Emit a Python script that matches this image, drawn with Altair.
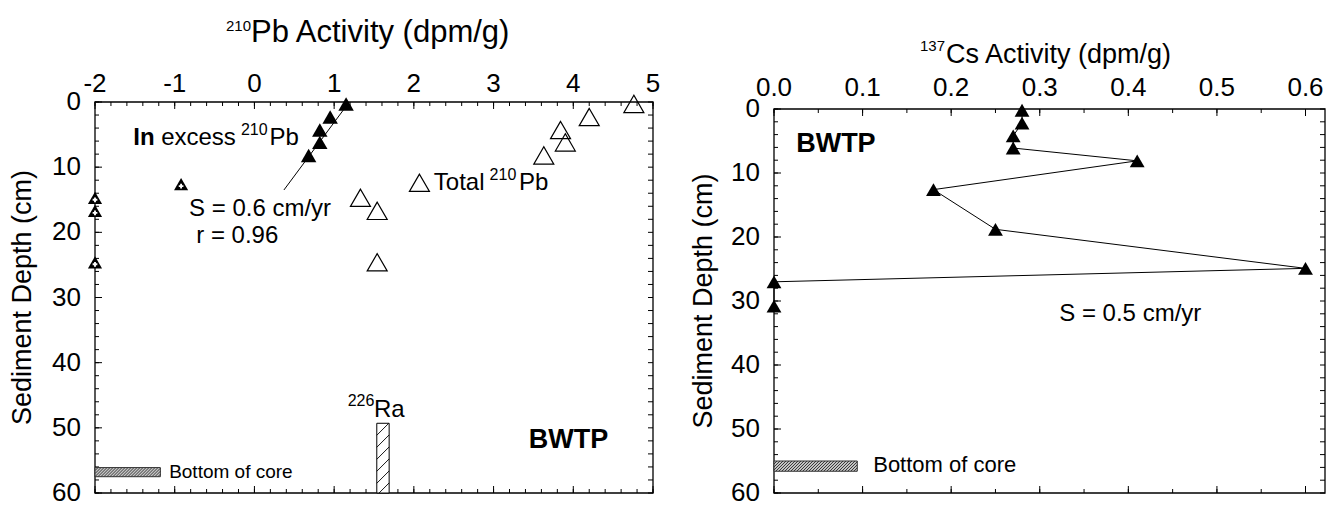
import altair as alt
import pandas as pd

# ------------------------------------------------------------------ data
# Left panel: 210Pb activity (dpm/g) vs sediment depth (cm)
exc_depth = [0.3, 2.3, 4.3, 6.2, 8.2]
exc_pb = [1.15, 0.95, 0.82, 0.82, 0.68]
tot_depth = [0.3, 2.3, 4.3, 6.2, 8.2, 14.7, 16.7, 24.6]
tot_pb = [4.76, 4.20, 3.84, 3.90, 3.63, 1.33, 1.54, 1.54]
neg_depth = [12.6, 14.7, 16.7, 24.6]
neg_pb = [-0.92, -2.0, -2.0, -2.0]
fit_pb = [1.19, 0.37]
fit_depth = [0.0, 13.5]
ra_pb = [1.535, 1.69]
ra_depth = [49.3, 60.0]
core_l_pb = [-2.0, -1.18]
core_l_depth = [56.1, 57.5]
legend_tri = [2.07, 12.4]

# Right panel: 137Cs activity (dpm/g) vs depth
cs_depth = [0.2, 2.2, 4.2, 6.1, 8.1, 12.6, 18.8, 24.9, 27.0, 30.8]
cs_act = [0.28, 0.28, 0.27, 0.27, 0.41, 0.18, 0.25, 0.60, 0.0, 0.0]
core_r_cs = [0.0, 0.094]
core_r_depth = [55.0, 56.6]

# tick labels
pb_ticks = [-2, -1, 0, 1, 2, 3, 4, 5]
pb_labels = ["-2", "-1", "0", "1", "2", "3", "4", "5"]
depth_ticks = [0, 10, 20, 30, 40, 50, 60]
depth_labels = ["0", "10", "20", "30", "40", "50", "60"]
cs_ticks = [0.0, 0.1, 0.2, 0.3, 0.4, 0.5, 0.6]
cs_labels = ["0.0", "0.1", "0.2", "0.3", "0.4", "0.5", "0.6"]
pb_minor = [round(-2 + 0.2 * i, 1) for i in range(36)]
depth_minor = list(range(0, 61, 2))
cs_minor = [round(0.05 * i, 2) for i in range(13)]

# ------------------------------------------------------------------ layout
FONT = "Liberation Sans"
X0, Y0 = 94, 101
H = 391
L_W, R_W = 558, 551
GAP = 121
L_XD = [-2, 5]
L_YD = [0, 60]
R_TOP = 7
R_PXCM = (H - R_TOP) / 60.0
R_XD = [0, 0.622]
R_YD = [-R_TOP / R_PXCM, 60]
L_PXX = L_W / 7.0
L_PXCM = H / 60.0
R_PXX = R_W / 0.622
TICK_FS = 26


def xs(d):
    return alt.Scale(domain=d, nice=False, zero=False)


def ys(d):
    return alt.Scale(domain=d, nice=False, zero=False, reverse=True)


def XE(f, d):
    return alt.X(f, type="quantitative", scale=xs(d), axis=None)


def YE(f, d):
    return alt.Y(f, type="quantitative", scale=ys(d), axis=None)


def txt(s, x, y, size, xd, yd, align="left", weight="normal"):
    df = pd.DataFrame({"x": [x], "y": [y], "t": [s]})
    return alt.Chart(df).mark_text(
        align=align, baseline="middle", fontSize=size, font=FONT,
        fontWeight=weight, color="black"
    ).encode(x=XE("x", xd), y=YE("y", yd), text="t:N")


def ptxt(s, px, py, size, angle=0, baseline="alphabetic", align="left"):
    df = pd.DataFrame({"a": [0]})
    return alt.Chart(df).mark_text(
        align=align, baseline=baseline, fontSize=size, font=FONT,
        angle=angle, color="black"
    ).encode(x=alt.value(px), y=alt.value(py), text=alt.value(s))


def xlabels(vals, labs, xd, py, size):
    df = pd.DataFrame({"x": vals, "t": labs})
    return alt.Chart(df).mark_text(
        align="center", baseline="alphabetic", fontSize=size, font=FONT, color="black"
    ).encode(x=XE("x", xd), y=alt.value(py), text="t:N")


def ylabels(vals, labs, yd, px, size):
    df = pd.DataFrame({"y": vals, "t": labs})
    return alt.Chart(df).mark_text(
        align="right", baseline="middle", fontSize=size, font=FONT, color="black"
    ).encode(y=YE("y", yd), x=alt.value(px), text="t:N")


def hatch(x0, x1, d0, d1, pxx, pxd, step):
    w = (x1 - x0) * pxx
    h = (d1 - d0) * pxd
    rows = []
    c = step
    while c < w + h:
        xa = max(0.0, c - h)
        xb = min(w, c)
        if xb > xa:
            rows.append({
                "x": x0 + xa / pxx, "x2": x0 + xb / pxx,
                "y": d0 + (c - xa) / pxd, "y2": d0 + (c - xb) / pxd,
            })
        c += step
    return pd.DataFrame(rows)


def ticks_x(vals, xd, y0, y1):
    return alt.Chart(pd.DataFrame({"x": vals})).mark_rule(
        color="black", strokeWidth=1).encode(
        x=XE("x", xd), y=alt.value(y0), y2=alt.value(y1))


def ticks_y(vals, yd, x0, x1):
    return alt.Chart(pd.DataFrame({"y": vals})).mark_rule(
        color="black", strokeWidth=1).encode(
        y=YE("y", yd), x=alt.value(x0), x2=alt.value(x1))


def rect(x0, x1, d0, d1, xd, yd, **style):
    df = pd.DataFrame({"x": [x0], "x2": [x1], "y": [d0], "y2": [d1]})
    return alt.Chart(df).mark_rect(**style).encode(
        x=XE("x", xd), x2="x2", y=YE("y", yd), y2="y2")


def hatch_layer(df, xd, yd, color, sw):
    return alt.Chart(df).mark_rule(color=color, strokeWidth=sw).encode(
        x=XE("x", xd), x2="x2", y=YE("y", yd), y2="y2")


def tri(df, xd, yd, size, filled=True, sw=1.2):
    return alt.Chart(df).mark_point(
        shape="triangle-up", filled=filled, size=size, color="black",
        strokeWidth=sw, opacity=1).encode(x=XE("x", xd), y=YE("y", yd))


# ------------------------------------------------------------------ left panel
exc_df = pd.DataFrame({"x": exc_pb, "y": exc_depth})
tot_df = pd.DataFrame({"x": tot_pb, "y": tot_depth})
neg_df = pd.DataFrame({"x": neg_pb, "y": neg_depth})
fit_df = pd.DataFrame({"x": fit_pb, "y": fit_depth, "o": [0, 1]})
leg_df = pd.DataFrame({"x": [legend_tri[0]], "y": [legend_tri[1]]})

left_layers = [
    # invisible anchor fixing the page origin
    alt.Chart(pd.DataFrame({"a": [0]})).mark_rule(color="white", strokeWidth=0.5).encode(
        x=alt.value(-X0), x2=alt.value(-X0 + 1), y=alt.value(-Y0), y2=alt.value(-Y0 + 1)),
    rect(-2, 5, 0, 60, L_XD, L_YD, fillOpacity=0, stroke="black", strokeWidth=1.3),
    ticks_x(pb_ticks, L_XD, 0, 7),
    ticks_x(pb_minor, L_XD, 0, 4),
    ticks_x(pb_ticks, L_XD, H - 7, H),
    ticks_x(pb_minor, L_XD, H - 4, H),
    ticks_y(depth_ticks, L_YD, 0, 7),
    ticks_y(depth_minor, L_YD, 0, 4),
    ticks_y(depth_minor, L_YD, L_W - 5, L_W),
    xlabels(pb_ticks, pb_labels, L_XD, -10, TICK_FS),
    ylabels(depth_ticks, depth_labels, L_YD, -14, TICK_FS),
    # 226Ra bar
    rect(ra_pb[0], ra_pb[1], ra_depth[0], ra_depth[1], L_XD, L_YD,
         fill="white", stroke="black", strokeWidth=1),
    hatch_layer(hatch(ra_pb[0], ra_pb[1], ra_depth[0], ra_depth[1], L_PXX, L_PXCM, 12),
                L_XD, L_YD, "black", 0.9),
    # bottom of core
    rect(core_l_pb[0], core_l_pb[1], core_l_depth[0], core_l_depth[1], L_XD, L_YD,
         fill="#c4c4c4", stroke="#333333", strokeWidth=1),
    hatch_layer(hatch(core_l_pb[0], core_l_pb[1], core_l_depth[0], core_l_depth[1],
                      L_PXX, L_PXCM, 3.0), L_XD, L_YD, "#2a2a2a", 0.9),
    # regression line
    alt.Chart(fit_df).mark_line(color="black", strokeWidth=1).encode(
        x=XE("x", L_XD), y=YE("y", L_YD), order="o:Q"),
    # total 210Pb (open)
    tri(tot_df, L_XD, L_YD, 400, filled=False),
    tri(leg_df, L_XD, L_YD, 400, filled=False),
    # excess 210Pb (filled)
    tri(exc_df, L_XD, L_YD, 240),
    # below-detection points
    tri(neg_df, L_XD, L_YD, 200),
    alt.Chart(neg_df).mark_point(shape="cross", filled=True, size=22,
                                 color="white", opacity=1, yOffset=2).encode(
        x=XE("x", L_XD), y=YE("y", L_YD)),
    # annotations
    txt("In", -1.52, 5.5, 24, L_XD, L_YD, weight="bold"),
    txt("excess", -1.17, 5.5, 24, L_XD, L_YD),
    txt("210", -0.17, 4.3, 16, L_XD, L_YD),
    txt("Pb", 0.19, 5.5, 24, L_XD, L_YD),
    txt("S = 0.6 cm/yr", -0.82, 16.4, 24, L_XD, L_YD),
    txt("r = 0.96", -0.73, 20.6, 24, L_XD, L_YD),
    txt("Total", 2.25, 12.4, 24, L_XD, L_YD),
    txt("210", 2.95, 11.2, 16, L_XD, L_YD),
    txt("Pb", 3.32, 12.4, 24, L_XD, L_YD),
    txt("226", 1.17, 45.9, 16, L_XD, L_YD),
    txt("Ra", 1.50, 47.2, 24, L_XD, L_YD),
    txt("BWTP", 3.94, 51.8, 27, L_XD, L_YD, align="center", weight="bold"),
    txt("Bottom of core", -1.07, 56.8, 19, L_XD, L_YD),
    # titles
    ptxt("210", 131, -71, 15),
    ptxt("Pb Activity (dpm/g)", 156, -60, 31),
    ptxt("Sediment Depth (cm)", -72, H / 2, 27, angle=270, baseline="middle", align="center"),
]
left = alt.layer(*left_layers).properties(width=L_W, height=H)

# ------------------------------------------------------------------ right panel
cs_df = pd.DataFrame({"x": cs_act, "y": cs_depth, "o": list(range(len(cs_act)))})

right_layers = [
    rect(0, R_XD[1], 0, 60, R_XD, R_YD, fillOpacity=0, stroke="black", strokeWidth=1.3),
    ticks_x(cs_ticks, R_XD, R_TOP, R_TOP + 7),
    ticks_x(cs_minor, R_XD, R_TOP, R_TOP + 4),
    ticks_x(cs_ticks, R_XD, H - 7, H),
    ticks_x(cs_minor, R_XD, H - 4, H),
    ticks_y(depth_ticks, R_YD, 0, 7),
    ticks_y(depth_minor, R_YD, 0, 4),
    ticks_y(depth_minor, R_YD, R_W - 5, R_W),
    xlabels(cs_ticks, cs_labels, R_XD, -6, TICK_FS),
    ylabels(depth_ticks, depth_labels, R_YD, -14, TICK_FS),
    rect(core_r_cs[0], core_r_cs[1], core_r_depth[0], core_r_depth[1], R_XD, R_YD,
         fill="#c4c4c4", stroke="#333333", strokeWidth=1),
    hatch_layer(hatch(core_r_cs[0], core_r_cs[1], core_r_depth[0], core_r_depth[1],
                      R_PXX, R_PXCM, 3.0), R_XD, R_YD, "#2a2a2a", 0.9),
    alt.Chart(cs_df).mark_line(color="black", strokeWidth=1).encode(
        x=XE("x", R_XD), y=YE("y", R_YD), order="o:Q"),
    tri(cs_df, R_XD, R_YD, 220),
    txt("BWTP", 0.025, 5.4, 27, R_XD, R_YD, weight="bold"),
    txt("S = 0.5 cm/yr", 0.322, 32.0, 24, R_XD, R_YD),
    txt("Bottom of core", 0.112, 55.7, 22, R_XD, R_YD),
    ptxt("137", 146, -51, 15),
    ptxt("Cs Activity (dpm/g)", 172, -39, 27),
    ptxt("Sediment Depth (cm)", -70, R_TOP + (H - R_TOP) / 2, 27, angle=270,
         baseline="middle", align="center"),
]
right = alt.layer(*right_layers).properties(width=R_W, height=H)

chart = alt.hconcat(left, right, spacing=GAP, bounds="flush").properties(
    padding=0, background="white"
).configure_view(stroke="transparent")

chart.save("out.html", embed_options={"renderer": "svg", "actions": False})
